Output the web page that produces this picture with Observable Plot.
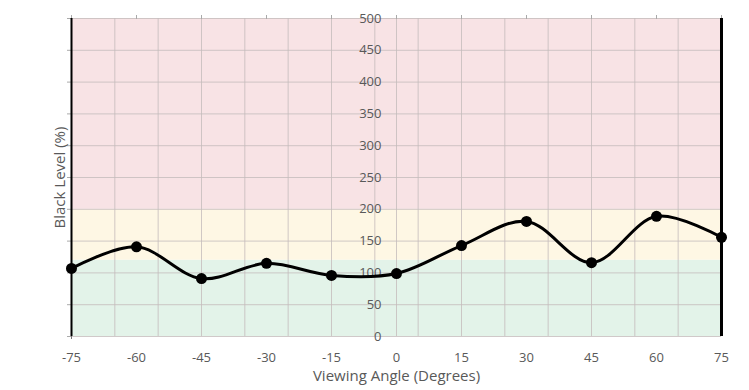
<!DOCTYPE html>
<html>
<head>
<meta charset="utf-8">
<script src="https://cdn.jsdelivr.net/npm/d3@7"></script>
<script src="https://cdn.jsdelivr.net/npm/@observablehq/plot@0.6"></script>
<style>
  html, body { margin: 0; padding: 0; background: #fff; }
  #chart svg { display: block; }
</style>
</head>
<body>
<div id="chart"></div>
<script>
// Data
const angles = [-75, -60, -45, -30, -15, 0, 15, 30, 45, 60, 75];
const blackLevel = [107, 141, 91, 115, 96, 99, 143, 181, 116, 189, 156];
const xTicks = [-75, -60, -45, -30, -15, 0, 15, 30, 45, 60, 75];
const xGrid = [-65, -55, -45, -35, -25, -15, -5, 0, 5, 15, 25, 35, 45, 55, 65];
const yTicks = [0, 50, 100, 150, 200, 250, 300, 350, 400, 450, 500];
const bandLow = [0, 120, 200];
const bandHigh = [120, 200, 500];
const bandColor = ["#e3f3e9", "#fef7e4", "#f8e3e5"];

const data = angles.map((a, i) => ({angle: a, value: blackLevel[i]}));
const bands = bandLow.map((lo, i) => ({lo, hi: bandHigh[i], color: bandColor[i]}));

const font = "'Open Sans', 'Segoe UI', sans-serif";
const textColor = "#595959";

const chart = Plot.plot({
  width: 749,
  height: 390,
  marginLeft: 71,
  marginRight: 28,
  marginTop: 18,
  marginBottom: 54,
  style: {fontFamily: font, background: "#fff"},
  x: {domain: [-75, 75], axis: null},
  y: {domain: [0, 500], axis: null},
  marks: [
    Plot.rect(bands, {x1: -75, x2: 75, y1: "lo", y2: "hi", fill: "color"}),
    Plot.ruleX(xGrid, {x: d => d, y1: 0, y2: 500, stroke: "#c4bcbc", strokeOpacity: 0.8, strokeWidth: 1}),
    Plot.ruleY(yTicks, {y: d => d, x1: -75, x2: 75, stroke: "#c4bcbc", strokeOpacity: 0.8, strokeWidth: 1}),
    Plot.axisX({anchor: "top", ticks: xTicks, tickSize: 4, tickFormat: () => "", label: null, stroke: "#aaa"}),
    Plot.axisX({anchor: "bottom", ticks: [-75], tickSize: 3, tickFormat: () => "", label: null, stroke: "#777"}),
    Plot.axisY({anchor: "left", ticks: yTicks, tickSize: 4, tickFormat: () => "", label: null, stroke: "#aaa"}),
    Plot.ruleX([-75], {x: d => d, y1: 0, y2: 500, stroke: "#000", strokeWidth: 2}),
    Plot.ruleX([75], {x: d => d, y1: 0, y2: 500, stroke: "#000", strokeWidth: 3}),
    Plot.text(yTicks, {x: 0, y: d => d, text: d => String(d), dx: -15, textAnchor: "end", fill: textColor, fontSize: 13}),
    Plot.text(xTicks, {x: d => d, frameAnchor: "bottom", text: d => String(d), dy: 25, fill: textColor, fontSize: 13}),
    Plot.text(["Viewing Angle (Degrees)"], {frameAnchor: "bottom", dy: 44, fill: textColor, fontSize: 15}),
    Plot.text(["Black Level (%)"], {frameAnchor: "left", textAnchor: "middle", dx: -11, rotate: -90, fill: textColor, fontSize: 15}),
    Plot.line(data, {x: "angle", y: "value", curve: "catmull-rom", stroke: "#000", strokeWidth: 3}),
    Plot.dot(data, {x: "angle", y: "value", r: 5.5, fill: "#000"})
  ]
});
document.getElementById("chart").appendChild(chart);
</script>
</body>
</html>
